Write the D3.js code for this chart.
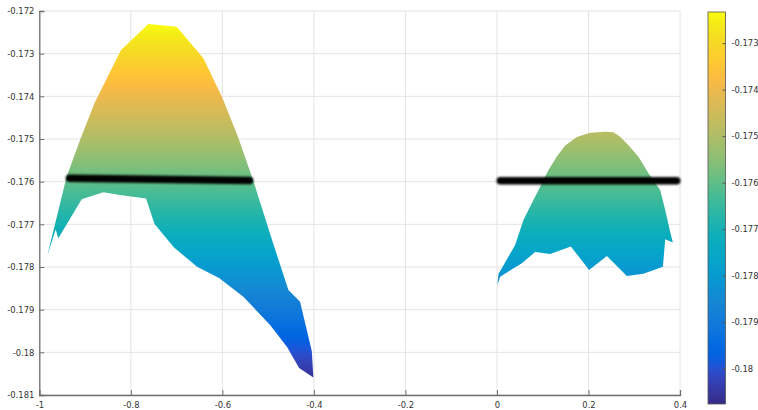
<!DOCTYPE html>
<html>
<head>
<meta charset="utf-8">
<script src="https://cdn.jsdelivr.net/npm/d3@7"></script>
<style>
  html, body { margin: 0; padding: 0; background: #fff; }
  svg { display: block; font-family: "DejaVu Sans", sans-serif; }
</style>
</head>
<body>
<svg id="chart" width="758" height="410"></svg>
<script>
// ---------- data ----------
const xTicks = [-1, -0.8, -0.6, -0.4, -0.2, 0, 0.2, 0.4];
const yTicks = [-0.181, -0.18, -0.179, -0.178, -0.177, -0.176, -0.175, -0.174, -0.173, -0.172];
const cbTicks = [-0.18, -0.179, -0.178, -0.177, -0.176, -0.175, -0.174, -0.173];
const colorLimits = [-0.18076, -0.17233];

const leftX = [-0.9825, -0.9405, -0.911, -0.8783, -0.8214, -0.7617, -0.6997, -0.6415, -0.6007, -0.5657,
  -0.5329, -0.4914, -0.4557, -0.4302, -0.4046, -0.4011, -0.4323, -0.4586, -0.4957, -0.5541,
  -0.6072, -0.6553, -0.7056, -0.7482, -0.7668, -0.8236, -0.8601, -0.9073, -0.9585, -0.9642];
const leftY = [-0.177735, -0.175891, -0.175023, -0.174133, -0.172914, -0.172305, -0.172368, -0.173109, -0.174016, -0.174953,
  -0.175961, -0.177367, -0.178539, -0.178813, -0.179969, -0.18059, -0.180367, -0.179875, -0.179359, -0.178696,
  -0.178258, -0.177993, -0.177543, -0.176992, -0.176395, -0.176312, -0.176249, -0.176413, -0.177327, -0.177121];

const rightX = [0.0011, 0.0033, 0.0398, 0.0579, 0.0944, 0.1120, 0.1309, 0.1490, 0.1746, 0.2037, 0.2365, 0.2546,
  0.2693, 0.2880, 0.3093, 0.3311, 0.3567, 0.3677, 0.3801, 0.3845, 0.3677, 0.3626, 0.3202,
  0.2839, 0.2402, 0.2015, 0.1615, 0.1163, 0.0835, 0.0544, 0.007];
const rightY = [-0.178422, -0.178164, -0.177484, -0.176898, -0.176118, -0.175738, -0.17541, -0.175152, -0.174953, -0.174855, -0.174829, -0.174843,
  -0.174946, -0.175152, -0.175415, -0.175804, -0.176195, -0.176664, -0.17725, -0.177426, -0.177351, -0.177993, -0.178157,
  -0.178211, -0.177742, -0.17807, -0.17752, -0.177695, -0.177648, -0.177913, -0.178227];

const lineLeftX = [-0.934, -0.5405];
const lineLeftY = [-0.17592, -0.17597];
const lineRightX = [0.0074, 0.3928];
const lineRightY = [-0.17598, -0.17598];

// parula colormap (style)
const parula = [[0.2081,0.1663,0.5292],[0.2116,0.1898,0.5777],[0.2123,0.2138,0.6270],[0.2081,0.2386,0.6771],
[0.1959,0.2645,0.7279],[0.1707,0.2919,0.7792],[0.1253,0.3242,0.8303],[0.0591,0.3598,0.8683],[0.0117,0.3875,0.8820],
[0.0060,0.4086,0.8828],[0.0165,0.4266,0.8786],[0.0329,0.4430,0.8720],[0.0498,0.4586,0.8641],[0.0629,0.4737,0.8554],
[0.0723,0.4887,0.8467],[0.0779,0.5040,0.8384],[0.0793,0.5200,0.8312],[0.0749,0.5375,0.8263],[0.0641,0.5570,0.8240],
[0.0488,0.5772,0.8228],[0.0343,0.5966,0.8199],[0.0265,0.6137,0.8135],[0.0239,0.6287,0.8038],[0.0231,0.6418,0.7913],
[0.0228,0.6535,0.7768],[0.0267,0.6642,0.7607],[0.0384,0.6743,0.7436],[0.0590,0.6838,0.7254],[0.0843,0.6928,0.7062],
[0.1133,0.7015,0.6859],[0.1453,0.7098,0.6646],[0.1801,0.7177,0.6424],[0.2178,0.7250,0.6193],[0.2586,0.7317,0.5954],
[0.3022,0.7376,0.5712],[0.3482,0.7424,0.5473],[0.3953,0.7459,0.5244],[0.4420,0.7481,0.5033],[0.4871,0.7491,0.4840],
[0.5300,0.7491,0.4661],[0.5709,0.7485,0.4494],[0.6099,0.7473,0.4337],[0.6473,0.7456,0.4188],[0.6834,0.7435,0.4044],
[0.7184,0.7411,0.3905],[0.7525,0.7384,0.3768],[0.7858,0.7356,0.3633],[0.8185,0.7327,0.3498],[0.8507,0.7299,0.3360],
[0.8824,0.7274,0.3217],[0.9139,0.7258,0.3063],[0.9450,0.7261,0.2886],[0.9739,0.7314,0.2666],[0.9938,0.7455,0.2403],
[0.9990,0.7653,0.2164],[0.9955,0.7861,0.1967],[0.9880,0.8066,0.1794],[0.9789,0.8271,0.1633],[0.9697,0.8481,0.1475],
[0.9626,0.8705,0.1309],[0.9589,0.8949,0.1132],[0.9598,0.9218,0.0948],[0.9661,0.9514,0.0755],[0.9763,0.9831,0.0538]];

// ---------- layout ----------
const svg = d3.select("#chart");
const x = d3.scaleLinear().domain([-1, 0.4]).range([39.3, 680]);
const y = d3.scaleLinear().domain([-0.181, -0.172]).range([395, 11]);
const cbX0 = 708, cbX1 = 725.5;
const cbY = d3.scaleLinear().domain(colorLimits).range([404, 12]);
const fmt = v => String(+v.toFixed(4));
const rgb = c => d3.rgb(c[0] * 255, c[1] * 255, c[2] * 255).toString();

const defs = svg.append("defs");
function makeGrad(id, y1, y2) {
  const g = defs.append("linearGradient").attr("id", id)
    .attr("gradientUnits", "userSpaceOnUse")
    .attr("x1", 0).attr("x2", 0).attr("y1", y1).attr("y2", y2);
  g.selectAll("stop").data(parula).join("stop")
    .attr("offset", (d, i) => i / (parula.length - 1))
    .attr("stop-color", d => rgb(d));
}
makeGrad("gradPlot", y(colorLimits[0]), y(colorLimits[1]));
makeGrad("gradBar", cbY(colorLimits[0]), cbY(colorLimits[1]));
defs.append("filter").attr("id", "soft").attr("filterUnits", "userSpaceOnUse")
  .attr("x", 0).attr("y", 0).attr("width", 758).attr("height", 410)
  .append("feGaussianBlur").attr("stdDeviation", 0.9);

// grid
const grid = svg.append("g").attr("stroke", "#e4e4e4").attr("stroke-width", 1);
grid.selectAll(".gx").data(xTicks).join("line")
  .attr("x1", d => x(d)).attr("x2", d => x(d)).attr("y1", y(-0.181)).attr("y2", y(-0.172));
grid.selectAll(".gy").data(yTicks).join("line")
  .attr("y1", d => y(d)).attr("y2", d => y(d)).attr("x1", x(-1)).attr("x2", x(0.4));

// shapes
const poly = (xs, ys) => d3.line().x((d, i) => x(xs[i])).y((d, i) => y(ys[i]))(xs) + "Z";
svg.append("path").attr("d", poly(leftX, leftY)).attr("fill", "url(#gradPlot)");
svg.append("path").attr("d", poly(rightX, rightY)).attr("fill", "url(#gradPlot)");

// black lines
const lineGen = (xs, ys) => d3.line().x((d, i) => x(xs[i])).y((d, i) => y(ys[i]))(xs);
[[lineLeftX, lineLeftY], [lineRightX, lineRightY]].forEach(([xs, ys]) => {
  svg.append("path").attr("d", lineGen(xs, ys))
    .attr("fill", "none").attr("stroke", "#000").attr("stroke-width", 7.5)
    .attr("stroke-linecap", "round").attr("filter", "url(#soft)");
});

// axes
const axisColor = "#6e6e6e";
const xAxis = d3.axisBottom(x).tickValues(xTicks).tickFormat(fmt).tickSize(-5).tickPadding(7);
const gx = svg.append("g").attr("transform", `translate(0,${y(-0.181)})`).call(xAxis);
const yAxis = d3.axisLeft(y).tickValues(yTicks).tickFormat(fmt).tickSize(-5).tickPadding(5);
const gy = svg.append("g").attr("transform", `translate(${x(-1)},0)`).call(yAxis);
[gx, gy].forEach(g => {
  g.select(".domain").attr("stroke", axisColor).attr("stroke-width", 1.3);
  g.selectAll(".tick line").attr("stroke", axisColor).attr("stroke-width", 1);
  g.selectAll(".tick text").attr("fill", "#333").style("font-size", "8.4px").style("font-family", "DejaVu Sans, sans-serif");
});

// colorbar
svg.append("rect").attr("x", cbX0).attr("y", 12).attr("width", cbX1 - cbX0).attr("height", 392)
  .attr("fill", "url(#gradBar)").attr("stroke", "#555").attr("stroke-width", 0.8);
const cbAxis = d3.axisRight(cbY).tickValues(cbTicks).tickFormat(fmt).tickSize(-3).tickPadding(6);
const gc = svg.append("g").attr("transform", `translate(${cbX1},0)`).call(cbAxis);
gc.select(".domain").remove();
gc.selectAll(".tick line").attr("stroke", "#555");
gc.selectAll(".tick text").attr("fill", "#333").style("font-size", "8.4px").style("font-family", "DejaVu Sans, sans-serif");
</script>
</body>
</html>
